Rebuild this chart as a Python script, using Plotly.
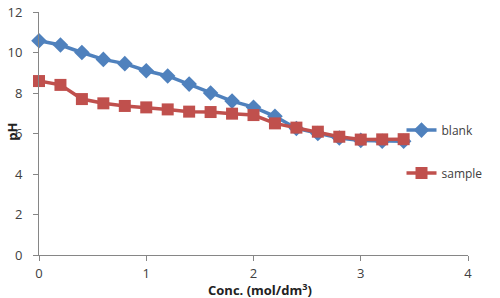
import plotly.graph_objects as go

conc = [0, 0.2, 0.4, 0.6, 0.8, 1.0, 1.2, 1.4, 1.6, 1.8, 2.0, 2.2, 2.4, 2.6, 2.8, 3.0, 3.2, 3.4]
blank = [10.58, 10.37, 10.0, 9.66, 9.45, 9.1, 8.84, 8.44, 8.0, 7.6, 7.3, 6.85, 6.25, 6.0, 5.78, 5.66, 5.62, 5.62]
sample = [8.59, 8.4, 7.7, 7.49, 7.36, 7.29, 7.19, 7.08, 7.06, 6.98, 6.91, 6.5, 6.29, 6.09, 5.84, 5.7, 5.71, 5.72]

x_ticks = [0, 1, 2, 3, 4]
y_ticks = [0, 2, 4, 6, 8, 10, 12]

BLUE = "#4F81BD"
RED = "#C0504D"
FONT = "Open Sans, Liberation Sans, sans-serif"

fig = go.Figure()
fig.add_trace(go.Scatter(
    x=conc, y=blank, name="blank", mode="lines+markers",
    line=dict(color=BLUE, width=3.5),
    marker=dict(symbol="diamond", size=12, color=BLUE),
    cliponaxis=False, legend="legend",
))
fig.add_trace(go.Scatter(
    x=conc, y=sample, name="sample", mode="lines+markers",
    line=dict(color=RED, width=3.5),
    marker=dict(symbol="square", size=12, color=RED),
    cliponaxis=False, legend="legend2",
))

axis_common = dict(
    showgrid=False, zeroline=False, showline=True, linecolor="#868686", linewidth=1,
    ticks="outside", ticklen=5, tickcolor="#868686", automargin=False,
    tickfont=dict(family=FONT, size=13, color="#404040"),
)

fig.update_layout(
    width=500, height=298,
    margin=dict(l=39, r=32, t=12, b=43),
    paper_bgcolor="white", plot_bgcolor="white",
    xaxis=dict(range=[0, 4], tickvals=x_ticks, ticklabelstandoff=1, **axis_common),
    yaxis=dict(range=[0, 12], tickvals=y_ticks, ticklabelstandoff=8, **axis_common),
    legend=dict(x=0.845, y=0.514, xanchor="left", yanchor="middle", borderwidth=0,
                bgcolor="rgba(0,0,0,0)", font=dict(family=FONT, size=12, color="#404040")),
    legend2=dict(x=0.845, y=0.337, xanchor="left", yanchor="middle", borderwidth=0,
                 bgcolor="rgba(0,0,0,0)", font=dict(family=FONT, size=12, color="#404040")),
    annotations=[
        dict(text="<b>Conc. (mol/dm<sup>3</sup>)</b>", x=0.515, y=-0.095, xref="paper", yref="paper",
             xanchor="center", yanchor="top", showarrow=False,
             font=dict(family=FONT, size=13, color="#222222")),
        dict(text="<b>pH</b>", x=-0.065, y=0.508, xref="paper", yref="paper",
             xanchor="center", yanchor="middle", showarrow=False, textangle=-90,
             font=dict(family=FONT, size=13, color="#222222")),
    ],
    showlegend=True,
)

fig.write_html("out.html", config={"displayModeBar": False},
               post_script="document.body.style.margin='0';document.body.style.overflow='hidden';")
